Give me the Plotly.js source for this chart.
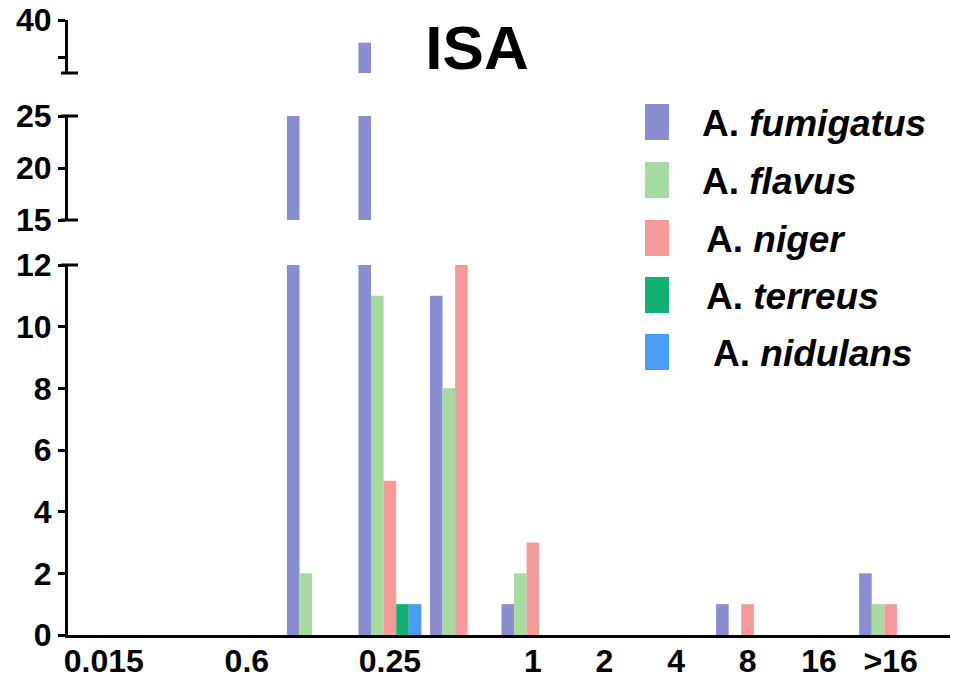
<!DOCTYPE html>
<html>
<head>
<meta charset="utf-8">
<script src="https://cdn.plot.ly/plotly-3.0.1.min.js"></script>
<style>html,body{margin:0;padding:0;background:#fff;}#chart{width:953px;height:680px;}</style>
</head>
<body>
<div id="chart"></div>
<script>
// MIC categories (µg/mL)
const categories = ['0.015','0.03','0.06','0.125','0.25','0.5','1','2','4','8','16','>16'];
const tickCats   = ['0.015','0.06','0.25','1','2','4','8','16','>16'];
const tickLabels = ['0.015','0.6','0.25','1','2','4','8','16','>16'];

const species = ['fumigatus','flavus','niger','terreus','nidulans'];
const colors  = ['#8a8dd0','#a6dba0','#f59a9a','#13b074','#4a9cf6'];

const fumigatus = [0,0,0,25,37,11,1,0,0,1,0,2];
const flavus    = [0,0,0,2,11,8,2,0,0,0,0,1];
const niger     = [0,0,0,0,5,12,3,0,0,1,0,1];
const terreus   = [0,0,0,0,1,0,0,0,0,0,0,0];
const nidulans  = [0,0,0,0,1,0,0,0,0,0,0,0];
const seriesVals = [fumigatus, flavus, niger, terreus, nidulans];

const titleText = 'ISA';
const yAxes = ['y','y2','y3'];

const FONT = 'Liberation Sans, Arial, sans-serif';

const traces = [];
yAxes.forEach((ya) => {
  species.forEach((sp, i) => {
    traces.push({
      type: 'bar',
      name: 'A. ' + sp,
      x: categories,
      y: seriesVals[i],
      xaxis: 'x',
      yaxis: ya,
      marker: {color: colors[i], line: {width: 0}},
      showlegend: false,
      hoverinfo: 'x+y+name'
    });
  });
});

// plot area geometry in px
const L = 68, R = 950, T = 20, B = 635;
const W = R - L, H = B - T;
const px2x = (px) => (px - L) / W;
const py2y = (py) => (B - py) / H;

// manual legend (large swatches like the reference)
const legendCenters = [122, 180, 238, 295, 352];
const legendTextX   = [700, 700, 704, 704, 711];
const shapes = [];
const annotations = [];
species.forEach((sp, i) => {
  const cy = legendCenters[i];
  shapes.push({
    type: 'rect', xref: 'paper', yref: 'paper',
    x0: px2x(645), x1: px2x(669), y0: py2y(cy + 18), y1: py2y(cy - 18),
    fillcolor: colors[i], line: {width: 0}
  });
  annotations.push({
    xref: 'paper', yref: 'paper', x: px2x(legendTextX[i]), y: py2y(cy + 1),
    xanchor: 'left', yanchor: 'middle', showarrow: false,
    text: '<b>A. <i>' + sp + '</i></b>',
    font: {family: FONT, size: 37, color: '#000'}
  });
});

// axis break caps
const capX0 = px2x(61), capX1 = px2x(78);
[['y domain',1],['y2 domain',0],['y2 domain',1],['y3 domain',0]].forEach(([ref, v]) => {
  shapes.push({type:'line', xref:'paper', yref:ref, x0:capX0, x1:capX1, y0:v, y1:v,
    line:{color:'#000', width:3}});
});

const tickFont = {family: FONT, size: 32, color: '#000', weight: 'bold'};
const yCommon = {
  anchor: 'x', showline: true, linecolor: '#000', linewidth: 3,
  ticks: 'outside', ticklen: 7, tickwidth: 3, tickcolor: '#000',
  showgrid: false, zeroline: false, tickfont: tickFont, fixedrange: true,
  ticklabelstandoff: 0
};

const layout = {
  width: 953, height: 680,
  margin: {l: L, r: 953 - R, t: T, b: 680 - B},
  paper_bgcolor: '#fff', plot_bgcolor: 'rgba(0,0,0,0)',
  barmode: 'group', bargap: 0.12, bargroupgap: 0,
  showlegend: false,
  title: {
    text: '<b>' + titleText + '</b>',
    font: {family: FONT, size: 62, color: '#000'},
    x: 477 / 953, xanchor: 'center', y: 1 - 47 / 680, yanchor: 'middle', xref: 'container', yref: 'container'
  },
  xaxis: {
    type: 'category', categoryorder: 'array', categoryarray: categories,
    range: [-0.5, 11.83], anchor: 'y',
    showline: true, linecolor: '#000', linewidth: 3,
    ticks: '', ticklen: 0, tickvals: tickCats, ticktext: tickLabels,
    tickfont: tickFont, showgrid: false, zeroline: false, fixedrange: true,
    ticklabelstandoff: -4
  },
  yaxis: Object.assign({}, yCommon, {
    domain: [0, py2y(265)], range: [0, 12], tickvals: [0,2,4,6,8,10,12]
  }),
  yaxis2: Object.assign({}, yCommon, {
    domain: [py2y(220), py2y(116)], range: [15, 25], tickvals: [15,20,25]
  }),
  yaxis3: Object.assign({}, yCommon, {
    domain: [py2y(73), 1], range: [33, 40], tickvals: [35,40], ticktext: ['', '40']
  }),
  shapes: shapes,
  annotations: annotations
};

Plotly.newPlot('chart', traces, layout, {staticPlot: true, displayModeBar: false});
</script>
</body>
</html>
